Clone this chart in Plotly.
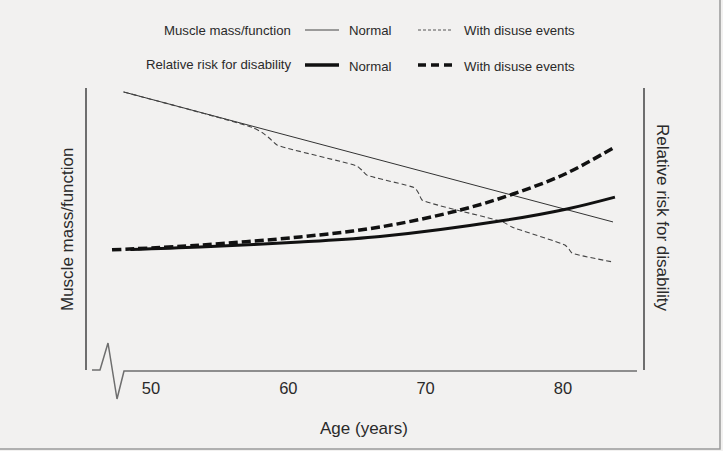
import plotly.graph_objects as go

# ages (years) and values, arbitrary units 0-100
muscle_normal_age = [48.0, 83.65]
muscle_normal = [98.6, 52.5]

muscle_disuse_age = [48.0, 57.4, 58.16, 58.67, 59.18, 65.0, 65.37, 65.73, 69.23, 69.52,
                     69.74, 75.64, 76.29, 80.15, 80.44, 80.66, 83.65]
muscle_disuse = [98.6, 86.0, 84.0, 82.0, 79.8, 72.3, 70.8, 69.1, 64.5, 62.4,
                 60.3, 52.5, 50.7, 44.3, 42.9, 41.5, 38.3]

risk_normal_age = [48.5, 53.57, 60.85, 66.68, 75.42, 80.3, 83.79]
risk_normal = [42.7, 43.6, 45.4, 47.3, 52.8, 57.1, 61.3]

risk_disuse_age = [47.16, 53.57, 60.85, 66.68, 72.5, 76.37, 80.15, 83.79]
risk_disuse = [42.6, 44.3, 47.2, 50.7, 56.7, 62.4, 69.5, 79.1]

tick_vals = [50, 60, 70, 80]

W, H = 723, 451
L, R, T, B = 87, 643, 88, 370   # plot area in pixels


def px(x):
    return (x - L) / (R - L)


def py(y):
    return (B - y) / (B - T)


font = "Liberation Sans, Arial, sans-serif"
axis_col = "#6e6e6e"

fig = go.Figure()
fig.add_trace(go.Scatter(x=muscle_normal_age, y=muscle_normal, mode="lines",
                         line=dict(color="#333333", width=1)))
fig.add_trace(go.Scatter(x=muscle_disuse_age, y=muscle_disuse, mode="lines",
                         line=dict(color="#444444", width=1.1, dash="5px,3px",
                                   shape="spline", smoothing=0.5)))
fig.add_trace(go.Scatter(x=risk_normal_age, y=risk_normal, mode="lines", yaxis="y2",
                         line=dict(color="#111111", width=3, shape="spline")))
fig.add_trace(go.Scatter(x=risk_disuse_age, y=risk_disuse, mode="lines", yaxis="y2",
                         line=dict(color="#111111", width=3.5, dash="9px,4px", shape="spline")))

shapes = []
# x axis line with a break at the left end
shapes.append(dict(type="path", xref="paper", yref="paper",
                   path="M %f,%f L %f,%f L %f,%f L %f,%f L %f,%f L %f,%f" % (
                       px(92), py(370), px(100), py(370), px(108), py(343),
                       px(117), py(399), px(124), py(371), px(637), py(371)),
                   line=dict(color=axis_col, width=1.5)))
# image frame, right and bottom edges only
shapes.append(dict(type="path", xref="paper", yref="paper",
                   path="M %f,%f L %f,%f L %f,%f" % (
                       px(0), py(449), px(720), py(449), px(720), py(0)),
                   line=dict(color="#9a9a9a", width=1.5)))
# legend samples
shapes.append(dict(type="line", xref="paper", yref="paper", x0=px(305), x1=px(339),
                   y0=py(30), y1=py(30), line=dict(color="#444444", width=1)))
shapes.append(dict(type="line", xref="paper", yref="paper", x0=px(418), x1=px(452),
                   y0=py(30), y1=py(30), line=dict(color="#555555", width=1, dash="3px,2px")))
shapes.append(dict(type="line", xref="paper", yref="paper", x0=px(305), x1=px(339),
                   y0=py(65), y1=py(65), line=dict(color="#111111", width=3.5)))
shapes.append(dict(type="line", xref="paper", yref="paper", x0=px(418), x1=px(452),
                   y0=py(65), y1=py(65), line=dict(color="#111111", width=3.5, dash="8px,5px")))

ann = []


def label(text, x, y, anchor, size=13.2, angle=0):
    ann.append(dict(text=text, xref="paper", yref="paper", x=px(x), y=py(y),
                    xanchor=anchor, yanchor="middle", showarrow=False, textangle=angle,
                    font=dict(family=font, size=size, color="#2a2a2a")))


label("Muscle mass/function", 293, 30, "right")
label("Normal", 347, 30, "left")
label("With disuse events", 462, 30, "left")
label("Relative risk for disability", 294, 64, "right")
label("Normal", 347, 66, "left")
label("With disuse events", 462, 66, "left")
label("Muscle mass/function", 67, 230, "center", size=17, angle=-90)
label("Relative risk for disability", 663, 218, "center", size=17, angle=90)
label("Age (years)", 364, 428, "center", size=17)

fig.update_layout(
    width=W, height=H,
    margin=dict(l=L, r=W - R, t=T, b=H - B),
    paper_bgcolor="#f2f1f0", plot_bgcolor="#f2f1f0",
    showlegend=False,
    font=dict(family=font, color="#2a2a2a"),
    xaxis=dict(range=[50 + (L - 151) / 13.73, 50 + (R - 151) / 13.73],
               tickvals=tick_vals, showgrid=False, zeroline=False, showline=False,
               ticks="", ticklabelstandoff=6, tickfont=dict(size=16.5, color="#2a2a2a")),
    yaxis=dict(range=[0, 100], showgrid=False, zeroline=False, showticklabels=False,
               showline=True, linecolor=axis_col, linewidth=1.5, ticks=""),
    yaxis2=dict(range=[0, 100], overlaying="y", side="right", showgrid=False,
                zeroline=False, showticklabels=False, showline=True,
                linecolor=axis_col, linewidth=1.5, ticks=""),
    shapes=shapes, annotations=ann,
)

# the page's default 8px body margin would shift the whole figure
fig.write_html("out.html", config={"displayModeBar": False},
               post_script="document.body.style.margin='0';")
